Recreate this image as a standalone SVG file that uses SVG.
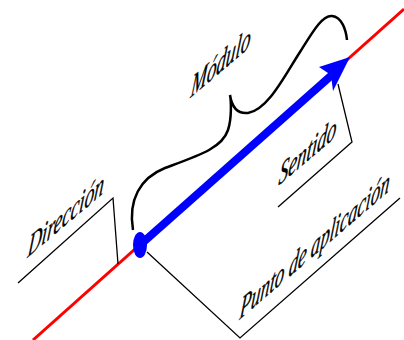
<svg xmlns="http://www.w3.org/2000/svg" width="404" height="340" viewBox="0 0 404 340">
<style>
.lbl{font-family:"Liberation Serif","Times New Roman",serif;font-style:italic;font-size:29px;fill:#000;stroke:#000;stroke-width:0.35}
.lead{fill:none;stroke:#000;stroke-width:1.3}
</style>
<rect width="404" height="340" fill="#fff"/>
<g id="connectors">
<line id="direction-line" x1="33" y1="340" x2="404" y2="9" stroke="#f00" stroke-width="3"/>
<path id="modulo-brace" d="M133,230 C128,200 140,178 165,168 C200,155 222,148 228,130 C232,118 231,100 230,95 C232,108 238,114 248,113 C268,110 285,75 300,52 C312,33 322,15 332,16 C342,17 346,30 347,40" fill="none" stroke="#000" stroke-width="2.5"/>
<path class="lead" d="M18,283 L113,198 L118,264"/>
<path class="lead" d="M278,207 L352,142 L338,84"/>
<path class="lead" d="M147,252 L240,338 L400,198"/>
</g>
<g id="vector">
<line x1="140" y1="245" x2="333" y2="74" stroke="#00f" stroke-width="8"/>
<path d="M350,57 L319,67 L331,75 L333,91 Z" fill="#00f"/>
</g>
<g id="punto">
<ellipse cx="140" cy="245" rx="7" ry="13" fill="#00f"/>
</g>
<g id="label-direccion"><text class="lbl" transform="matrix(0.66 -0.56 -0.14 1.14 27 258)">Dirección</text></g>
<g id="label-modulo"><text class="lbl" transform="matrix(0.66 -0.56 -0.14 1.14 190 98)">Módulo</text></g>
<g id="label-sentido"><text class="lbl" transform="matrix(0.66 -0.56 -0.14 1.14 278 186)">Sentido</text></g>
<g id="label-punto"><text class="lbl" transform="matrix(0.64 -0.55 -0.14 1.14 239 320)">Punto de aplicación</text></g>
</svg>
